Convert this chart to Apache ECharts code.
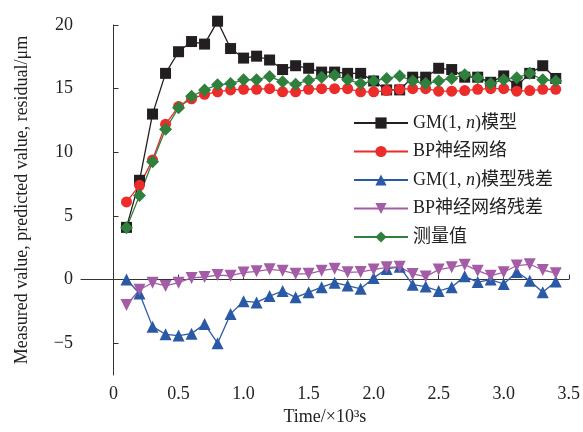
<!DOCTYPE html>
<html>
<head>
<meta charset="utf-8">
<script src="https://cdn.jsdelivr.net/npm/echarts@6/dist/echarts.min.js"></script>
<style>
  html, body { margin: 0; padding: 0; background: #fff; }
  #chart { width: 583px; height: 432px; }
</style>
</head>
<body>
<div id="chart"></div>
<script>
// time in 10^3 s
var times = [0.1, 0.2, 0.3, 0.4, 0.5, 0.6, 0.7, 0.8, 0.9, 1.0, 1.1, 1.2, 1.3, 1.4, 1.5, 1.6, 1.7,
             1.8, 1.9, 2.0, 2.1, 2.2, 2.3, 2.4, 2.5, 2.6, 2.7, 2.8, 2.9, 3.0, 3.1, 3.2, 3.3, 3.4];

var gmModel = [4.1, 7.8, 13.0, 16.2, 17.9, 18.7, 18.5, 20.3, 18.15, 17.4, 17.55, 17.25, 16.5, 16.8, 16.6, 16.3, 16.3,
               16.2, 16.2, 15.6, 14.9, 14.9, 15.9, 15.9, 16.6, 16.5, 15.9, 15.9, 15.5, 16.0, 15.2, 16.2, 16.8, 15.8];
var bpNet = [6.1, 7.4, 9.4, 12.2, 13.6, 14.2, 14.55, 14.75, 14.9, 14.95, 14.95, 15.0, 14.75, 14.75, 14.95, 15.0, 15.0,
             15.0, 14.75, 14.75, 14.85, 14.95, 15.0, 15.0, 14.8, 14.8, 14.85, 14.95, 15.0, 15.0, 14.8, 14.85, 14.95, 14.95];
var gmResidual = [0.0, -1.1, -3.7, -4.3, -4.4, -4.25, -3.5, -5.0, -2.7, -1.7, -1.8, -1.3, -0.9, -1.4, -1.0, -0.6, -0.25,
                  -0.47, -0.73, 0.13, 0.83, 1.0, -0.4, -0.55, -0.9, -0.6, 0.25, -0.2, 0.0, -0.35, 0.6, -0.1, -1.0, -0.15];
var bpResidual = [-2.0, -0.8, -0.25, -0.5, -0.25, 0.13, 0.2, 0.35, 0.3, 0.55, 0.65, 0.8, 0.7, 0.45, 0.45, 0.7, 0.85,
                  0.57, 0.6, 0.78, 0.96, 1.0, 0.44, 0.23, 0.78, 0.96, 1.17, 0.7, 0.3, 0.57, 1.1, 1.2, 0.75, 0.5];
var measured = [4.06, 6.6, 9.25, 11.8, 13.5, 14.4, 14.9, 15.3, 15.4, 15.7, 15.7, 15.95, 15.55, 15.35, 15.65, 15.9, 16.05,
                15.7, 15.4, 15.6, 15.8, 16.0, 15.6, 15.4, 15.6, 15.8, 16.1, 15.85, 15.4, 15.7, 15.85, 16.2, 15.7, 15.6];

var xTicks = [0, 0.5, 1.0, 1.5, 2.0, 2.5, 3.0, 3.5];
var yTicks = [-5, 0, 5, 10, 15, 20];

var names = ["GM(1, n)模型", "BP神经网络", "GM(1, n)模型残差", "BP神经网络残差", "测量值"];

function pairs(vals) {
  return vals.map(function (v, i) { return [times[i], v]; });
}

var chart = echarts.init(document.getElementById("chart"));
var font = "'Liberation Serif', 'Times New Roman', 'Noto Sans CJK SC', serif";
var axisColor = "#333";

function line(name, data, color, symbol, size, rotate) {
  return {
    name: name,
    type: "line",
    data: pairs(data),
    symbol: symbol,
    symbolSize: size,
    symbolRotate: rotate || 0,
    clip: false,
    animation: false,
    lineStyle: { color: color, width: 1.3 },
    itemStyle: { color: color }
  };
}

var option = {
  backgroundColor: "#fff",
  animation: false,
  grid: { left: 81, right: 12, top: 25, bottom: 57 },
  legend: {
    orient: "vertical",
    left: 353,
    top: 114,
    padding: 0,
    itemWidth: 54,
    itemHeight: 14,
    itemGap: 10.5,
    data: names,
    formatter: function (n) {
      return n.replace("n)", "{i|n})");
    },
    textStyle: {
      fontFamily: font,
      fontSize: 18,
      color: "#222",
      lineHeight: 18,
      rich: {
        i: { fontFamily: font, fontSize: 18, fontStyle: "italic", color: "#222" }
      }
    }
  },
  xAxis: {
    type: "value",
    min: -0.25,
    max: 3.5,
    name: "Time/×10³s",
    nameLocation: "middle",
    nameGap: 31,
    nameTextStyle: { fontFamily: font, fontSize: 18, color: "#222" },
    splitLine: { show: false },
    axisLine: { lineStyle: { color: axisColor, width: 1 } },
    axisTick: { inside: true, length: 5, customValues: xTicks, lineStyle: { color: axisColor } },
    axisLabel: {
      customValues: xTicks,
      fontFamily: font,
      fontSize: 18,
      color: "#222",
      margin: 10,
      formatter: function (v) { return v === 0 ? "0" : v.toFixed(1); }
    }
  },
  yAxis: {
    type: "value",
    min: -7.5,
    max: 20,
    name: "Measured value, predicted value, residual/μm",
    nameLocation: "middle",
    nameGap: 50,
    nameTextStyle: { fontFamily: font, fontSize: 18, color: "#222" },
    splitLine: { show: false },
    axisLine: { show: true, lineStyle: { color: axisColor, width: 1 } },
    axisTick: { show: true, inside: true, length: 5, customValues: yTicks, lineStyle: { color: axisColor } },
    axisLabel: {
      customValues: yTicks,
      fontFamily: font,
      fontSize: 18,
      color: "#222",
      margin: 8,
      formatter: function (v) { return v < 0 ? "−" + Math.abs(v) : String(v); }
    }
  },
  series: [
    line(names[0], gmModel, "#231f20", "rect", 11),
    line(names[1], bpNet, "#ec2b2b", "circle", 11),
    line(names[2], gmResidual, "#2a59a6", "triangle", 12),
    line(names[3], bpResidual, "#a45ca6", "triangle", 12, 180),
    line(names[4], measured, "#2f7f3d", "diamond", 13)
  ]
};

chart.setOption(option);
</script>
</body>
</html>
